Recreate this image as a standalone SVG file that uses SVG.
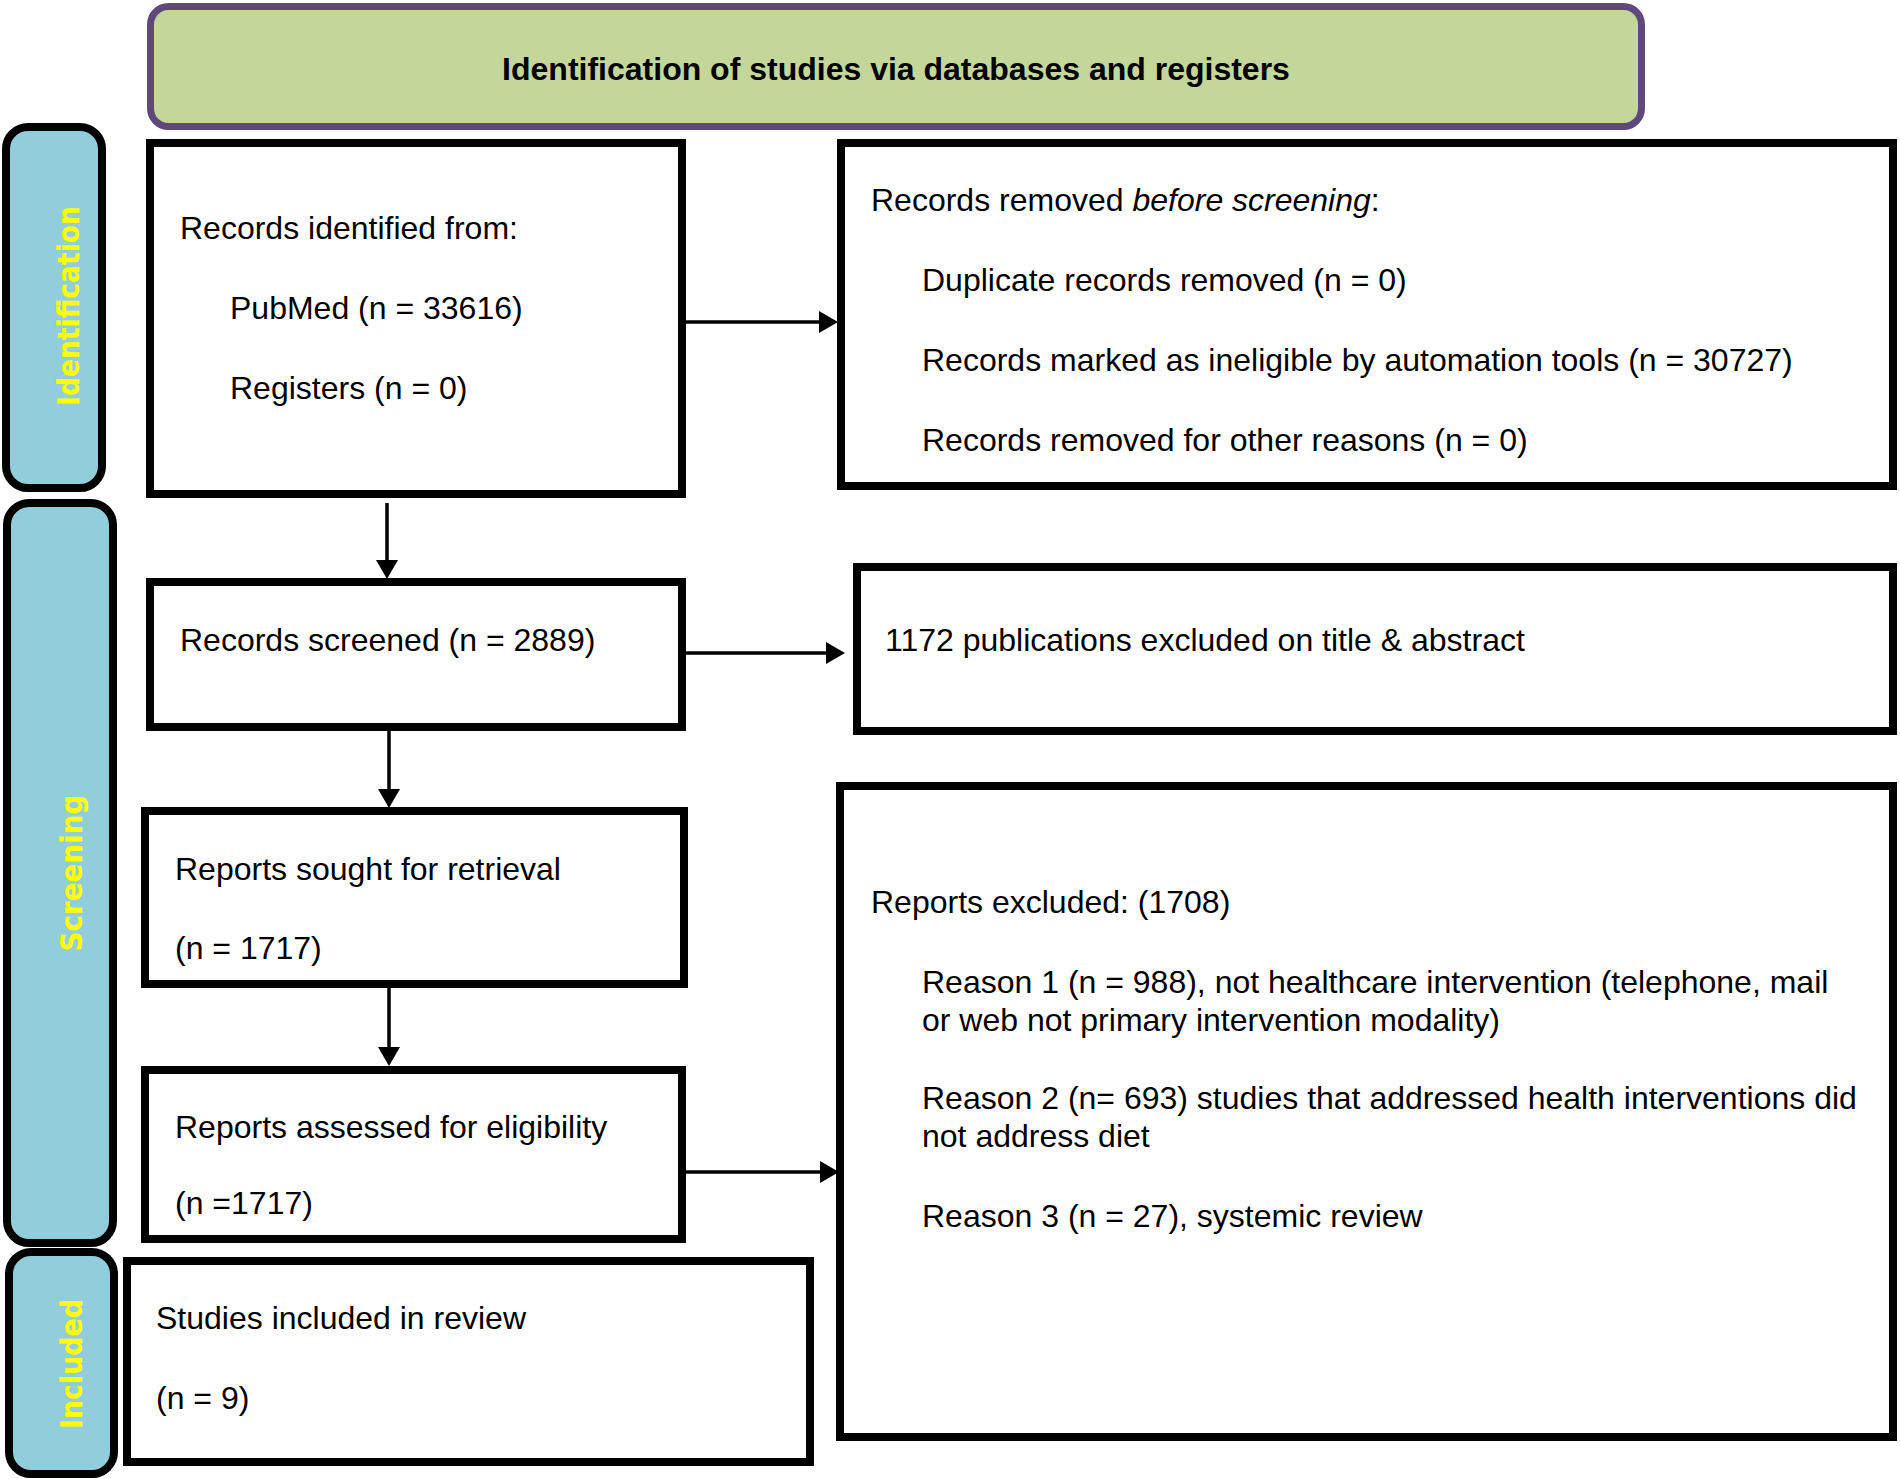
<svg xmlns="http://www.w3.org/2000/svg" width="1900" height="1479" viewBox="0 0 1900 1479">
<style>
.box{fill:#ffffff;stroke:#000000;stroke-width:8}
.side{fill:#92cddc;stroke:#000000;stroke-width:8}
.t{font-family:"Liberation Sans",Arial,Helvetica,sans-serif;font-size:32px;fill:#000000}
.st{font-family:"DejaVu Sans",Verdana,sans-serif;font-size:30px;font-weight:bold;fill:#ffff00}
.c{fill:none;stroke:#000000;stroke-width:3.5}
</style>
<defs>
<marker id="ah" viewBox="0 0 19 22" markerWidth="19" markerHeight="22" refX="9" refY="11" orient="auto" markerUnits="userSpaceOnUse">
<path d="M0,0 L19,11 L0,22 z" fill="#000000"/>
</marker>
</defs>
<rect width="1900" height="1479" fill="#ffffff"/>

<g id="title">
<rect x="150.5" y="6.5" width="1491" height="120" rx="18" fill="#c4d79b" stroke="#5f497a" stroke-width="7"/>
<text class="t" x="896" y="80" text-anchor="middle" font-weight="bold">Identification of studies via databases and registers</text>
</g>

<g id="side-identification">
<rect class="side" x="6" y="127" width="96" height="361" rx="22"/>
<text class="st" transform="translate(79,306) rotate(-90)" text-anchor="middle" textLength="200" lengthAdjust="spacingAndGlyphs">Identification</text>
</g>
<g id="side-screening">
<rect class="side" x="7" y="503" width="106" height="740" rx="22"/>
<text class="st" transform="translate(82,873) rotate(-90)" text-anchor="middle" textLength="157" lengthAdjust="spacingAndGlyphs">Screening</text>
</g>
<g id="side-included">
<rect class="side" x="9" y="1252" width="105" height="222" rx="22"/>
<text class="st" transform="translate(82,1364) rotate(-90)" text-anchor="middle" textLength="130" lengthAdjust="spacingAndGlyphs">Included</text>
</g>

<g id="records-identified">
<rect class="box" x="150" y="143" width="532" height="351"/>
<text class="t" x="180" y="239">Records identified from:</text>
<text class="t" x="230" y="319">PubMed (n = 33616)</text>
<text class="t" x="230" y="399">Registers (n = 0)</text>
</g>

<g id="records-removed">
<rect class="box" x="841" y="143" width="1052" height="343"/>
<text class="t" x="871" y="211">Records removed <tspan font-style="italic">before screening</tspan>:</text>
<text class="t" x="922" y="291">Duplicate records removed (n = 0)</text>
<text class="t" x="922" y="371">Records marked as ineligible by automation tools (n = 30727)</text>
<text class="t" x="922" y="451">Records removed for other reasons (n = 0)</text>
</g>

<g id="records-screened">
<rect class="box" x="150" y="582" width="532" height="145"/>
<text class="t" x="180" y="651">Records screened (n = 2889)</text>
</g>

<g id="excluded-title-abstract">
<rect class="box" x="857" y="567" width="1036" height="164"/>
<text class="t" x="885" y="651">1172 publications excluded on title &amp; abstract</text>
</g>

<g id="reports-sought">
<rect class="box" x="145" y="811" width="539" height="173"/>
<text class="t" x="175" y="880">Reports sought for retrieval</text>
<text class="t" x="175" y="959">(n = 1717)</text>
</g>

<g id="reports-excluded">
<rect class="box" x="840" y="786" width="1053" height="651"/>
<text class="t" x="871" y="913">Reports excluded: (1708)</text>
<text class="t" x="922" y="993">Reason 1 (n = 988), not healthcare intervention (telephone, mail</text>
<text class="t" x="922" y="1031">or web not primary intervention modality)</text>
<text class="t" x="922" y="1109">Reason 2 (n= 693) studies that addressed health interventions did</text>
<text class="t" x="922" y="1147">not address diet</text>
<text class="t" x="922" y="1227">Reason 3 (n = 27), systemic review</text>
</g>

<g id="reports-assessed">
<rect class="box" x="145" y="1070" width="537" height="169"/>
<text class="t" x="175" y="1138">Reports assessed for eligibility</text>
<text class="t" x="175" y="1214">(n =1717)</text>
</g>

<g id="studies-included">
<rect class="box" x="127" y="1261" width="683" height="201"/>
<text class="t" x="156" y="1329">Studies included in review</text>
<text class="t" x="156" y="1409">(n = 9)</text>
</g>

<g id="connectors">
<path class="c" d="M686,322 H828" marker-end="url(#ah)"/>
<path class="c" d="M387,503 V569" marker-end="url(#ah)"/>
<path class="c" d="M686,653 H835" marker-end="url(#ah)"/>
<path class="c" d="M389,731 V798" marker-end="url(#ah)"/>
<path class="c" d="M389,988 V1056" marker-end="url(#ah)"/>
<path class="c" d="M686,1172 H829" marker-end="url(#ah)"/>
</g>
</svg>
